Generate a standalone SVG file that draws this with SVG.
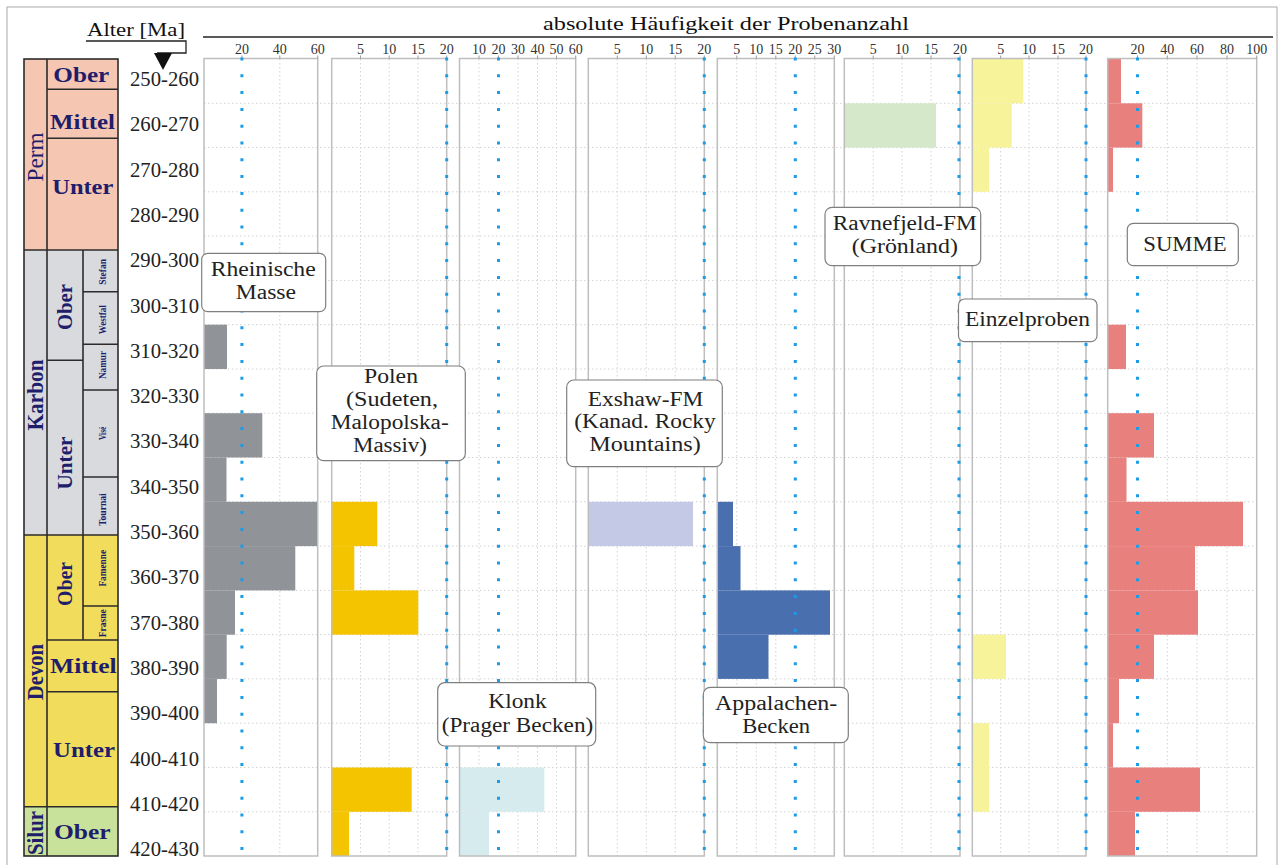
<svg xmlns="http://www.w3.org/2000/svg" width="1280" height="865" viewBox="0 0 1280 865">
<style>
text{font-family:"Liberation Serif","Times New Roman",serif;}
.age{font-size:20px;fill:#222;}
.tick{font-size:14px;fill:#333;text-anchor:middle;}
.lbl{font-size:20px;fill:#222;}
.st{font-weight:bold;fill:#201D6B;}
.per{font-weight:normal;fill:#201D6B;font-size:24px;}
.perb{font-weight:bold;fill:#201D6B;font-size:23px;}
.mid{font-size:20px;}
.sm{font-size:11px;}
.frame{fill:none;stroke:#BEBEBE;stroke-width:1.5;}
.vg{stroke:#D2D2D2;stroke-width:1;stroke-dasharray:1.5 2.5;}
.hg{stroke:#D2D2D2;stroke-width:1;stroke-dasharray:1.5 2.5;}
.blue{stroke:#1C9CE8;stroke-width:3;stroke-dasharray:3 13.8;}
.box{fill:#fff;stroke:#7F7F7F;stroke-width:1.2;}
.col{stroke:#2B2B2B;stroke-width:1.6;}
.tk{stroke:#9A9A9A;stroke-width:1;}
</style>
<rect x="7" y="7" width="1270" height="862" fill="#fff" stroke="#AAAAAA" stroke-width="1"/>

<!-- Header -->
<g id="header">
<text x="543" y="30" font-size="19" fill="#111" textLength="366" lengthAdjust="spacingAndGlyphs">absolute Häufigkeit der Probenanzahl</text>
<line x1="203" y1="37" x2="1273" y2="37" stroke="#222" stroke-width="1.5"/>
<text x="87" y="36" font-size="19" fill="#111" textLength="98" lengthAdjust="spacingAndGlyphs">Alter [Ma]</text>
<polyline points="86,41 186,41 186,53 157,53" fill="none" stroke="#222" stroke-width="1.3"/>
<polygon points="154,53 172,53 163,70" fill="#111"/>
</g>

<!-- Stratigraphic column -->
<g id="strat">
<rect x="24" y="59" width="94" height="191" fill="#F5C6B2"/>
<rect x="24" y="250" width="94" height="285" fill="#D9DADE"/>
<rect x="24" y="535" width="94" height="271.7" fill="#F2DC5C"/>
<rect x="24" y="806.7" width="94" height="49.3" fill="#C8E29B"/>
<rect x="24" y="59" width="94" height="797" fill="none" class="col"/>
<line class="col" x1="47" y1="59" x2="47" y2="856"/>
<line class="col" x1="24" y1="250" x2="118" y2="250"/>
<line class="col" x1="24" y1="535" x2="118" y2="535"/>
<line class="col" x1="24" y1="806.7" x2="118" y2="806.7"/>
<line class="col" x1="47" y1="89.3" x2="118" y2="89.3"/>
<line class="col" x1="47" y1="138.3" x2="118" y2="138.3"/>
<line class="col" x1="83" y1="250" x2="83" y2="535"/>
<line class="col" x1="47" y1="360.3" x2="83" y2="360.3"/>
<line class="col" x1="83" y1="291.7" x2="118" y2="291.7"/>
<line class="col" x1="83" y1="344.3" x2="118" y2="344.3"/>
<line class="col" x1="83" y1="390" x2="118" y2="390"/>
<line class="col" x1="83" y1="477" x2="118" y2="477"/>
<line class="col" x1="83" y1="535" x2="83" y2="640"/>
<line class="col" x1="83" y1="606" x2="118" y2="606"/>
<line class="col" x1="47" y1="640" x2="118" y2="640"/>
<line class="col" x1="47" y1="691.7" x2="118" y2="691.7"/>

<text class="per" transform="translate(43,157) rotate(-90)" x="-24.5" y="0" textLength="49" lengthAdjust="spacingAndGlyphs">Perm</text>
<text class="perb" transform="translate(43,395) rotate(-90)" x="-35.5" y="0" textLength="71" lengthAdjust="spacingAndGlyphs">Karbon</text>
<text class="perb" transform="translate(43,672) rotate(-90)" x="-28" y="0" textLength="56" lengthAdjust="spacingAndGlyphs">Devon</text>
<text class="perb" transform="translate(43,833) rotate(-90)" x="-22" y="0" textLength="44" lengthAdjust="spacingAndGlyphs">Silur</text>

<text class="st mid" x="53.3" y="82" textLength="56" lengthAdjust="spacingAndGlyphs">Ober</text>
<text class="st mid" x="50" y="128.5" textLength="65" lengthAdjust="spacingAndGlyphs">Mittel</text>
<text class="st mid" x="52.3" y="194.3" textLength="61" lengthAdjust="spacingAndGlyphs">Unter</text>
<text class="st mid" transform="translate(71.5,307) rotate(-90)" x="-23" y="0" textLength="46" lengthAdjust="spacingAndGlyphs">Ober</text>
<text class="st mid" transform="translate(71.5,463) rotate(-90)" x="-26.5" y="0" textLength="53" lengthAdjust="spacingAndGlyphs">Unter</text>
<text class="st mid" transform="translate(71.5,584) rotate(-90)" x="-22" y="0" textLength="44" lengthAdjust="spacingAndGlyphs">Ober</text>
<text class="st mid" x="50" y="672.7" textLength="66.7" lengthAdjust="spacingAndGlyphs">Mittel</text>
<text class="st mid" x="53" y="757.3" textLength="62" lengthAdjust="spacingAndGlyphs">Unter</text>
<text class="st mid" x="54" y="839.3" textLength="56.7" lengthAdjust="spacingAndGlyphs">Ober</text>

<text class="st sm" transform="translate(105.5,272) rotate(-90)" x="-12.8" y="0" textLength="25.7" lengthAdjust="spacingAndGlyphs">Stefan</text>
<text class="st sm" transform="translate(105.5,319.7) rotate(-90)" x="-14.5" y="0" textLength="29" lengthAdjust="spacingAndGlyphs">Westfal</text>
<text class="st sm" transform="translate(105.5,365) rotate(-90)" x="-14" y="0" textLength="28" lengthAdjust="spacingAndGlyphs">Namur</text>
<text class="st sm" transform="translate(105.5,433.3) rotate(-90)" x="-6.7" y="0" textLength="13.3" lengthAdjust="spacingAndGlyphs">Visé</text>
<text class="st sm" transform="translate(105.5,509.7) rotate(-90)" x="-16.3" y="0" textLength="32.7" lengthAdjust="spacingAndGlyphs">Tournai</text>
<text class="st sm" transform="translate(105.5,568.3) rotate(-90)" x="-18.3" y="0" textLength="36.7" lengthAdjust="spacingAndGlyphs">Famenne</text>
<text class="st sm" transform="translate(105.5,623.3) rotate(-90)" x="-14" y="0" textLength="28" lengthAdjust="spacingAndGlyphs">Frasne</text>
</g>

<!-- Age labels -->
<g id="ages">
<text class="age" x="130" y="86" textLength="69" lengthAdjust="spacingAndGlyphs">250-260</text>
<text class="age" x="130" y="131.3" textLength="69" lengthAdjust="spacingAndGlyphs">260-270</text>
<text class="age" x="130" y="176.6" textLength="69" lengthAdjust="spacingAndGlyphs">270-280</text>
<text class="age" x="130" y="221.9" textLength="69" lengthAdjust="spacingAndGlyphs">280-290</text>
<text class="age" x="130" y="267.2" textLength="69" lengthAdjust="spacingAndGlyphs">290-300</text>
<text class="age" x="130" y="312.5" textLength="69" lengthAdjust="spacingAndGlyphs">300-310</text>
<text class="age" x="130" y="357.8" textLength="69" lengthAdjust="spacingAndGlyphs">310-320</text>
<text class="age" x="130" y="403.1" textLength="69" lengthAdjust="spacingAndGlyphs">320-330</text>
<text class="age" x="130" y="448.4" textLength="69" lengthAdjust="spacingAndGlyphs">330-340</text>
<text class="age" x="130" y="493.7" textLength="69" lengthAdjust="spacingAndGlyphs">340-350</text>
<text class="age" x="130" y="539" textLength="69" lengthAdjust="spacingAndGlyphs">350-360</text>
<text class="age" x="130" y="584.3" textLength="69" lengthAdjust="spacingAndGlyphs">360-370</text>
<text class="age" x="130" y="629.6" textLength="69" lengthAdjust="spacingAndGlyphs">370-380</text>
<text class="age" x="130" y="674.9" textLength="69" lengthAdjust="spacingAndGlyphs">380-390</text>
<text class="age" x="130" y="720.2" textLength="69" lengthAdjust="spacingAndGlyphs">390-400</text>
<text class="age" x="130" y="765.5" textLength="69" lengthAdjust="spacingAndGlyphs">400-410</text>
<text class="age" x="130" y="810.8" textLength="69" lengthAdjust="spacingAndGlyphs">410-420</text>
<text class="age" x="130" y="856" textLength="69" lengthAdjust="spacingAndGlyphs">420-430</text>
</g>

<!-- Grid -->
<g id="grid">
<line class="hg" x1="204" y1="103.3" x2="1257" y2="103.3"/>
<line class="hg" x1="204" y1="147.6" x2="1257" y2="147.6"/>
<line class="hg" x1="204" y1="191.8" x2="1257" y2="191.8"/>
<line class="hg" x1="204" y1="236.1" x2="1257" y2="236.1"/>
<line class="hg" x1="204" y1="280.4" x2="1257" y2="280.4"/>
<line class="hg" x1="204" y1="324.7" x2="1257" y2="324.7"/>
<line class="hg" x1="204" y1="369" x2="1257" y2="369"/>
<line class="hg" x1="204" y1="413.2" x2="1257" y2="413.2"/>
<line class="hg" x1="204" y1="457.5" x2="1257" y2="457.5"/>
<line class="hg" x1="204" y1="501.8" x2="1257" y2="501.8"/>
<line class="hg" x1="204" y1="546.1" x2="1257" y2="546.1"/>
<line class="hg" x1="204" y1="590.4" x2="1257" y2="590.4"/>
<line class="hg" x1="204" y1="634.6" x2="1257" y2="634.6"/>
<line class="hg" x1="204" y1="678.9" x2="1257" y2="678.9"/>
<line class="hg" x1="204" y1="723.2" x2="1257" y2="723.2"/>
<line class="hg" x1="204" y1="767.5" x2="1257" y2="767.5"/>
<line class="hg" x1="204" y1="811.8" x2="1257" y2="811.8"/>
<line class="vg" x1="279.8" y1="59" x2="279.8" y2="856"/>
<line class="vg" x1="360.5" y1="59" x2="360.5" y2="856"/>
<line class="vg" x1="389.2" y1="59" x2="389.2" y2="856"/>
<line class="vg" x1="418" y1="59" x2="418" y2="856"/>
<line class="vg" x1="479" y1="59" x2="479" y2="856"/>
<line class="vg" x1="518" y1="59" x2="518" y2="856"/>
<line class="vg" x1="537.5" y1="59" x2="537.5" y2="856"/>
<line class="vg" x1="556.5" y1="59" x2="556.5" y2="856"/>
<line class="vg" x1="617.3" y1="59" x2="617.3" y2="856"/>
<line class="vg" x1="646.3" y1="59" x2="646.3" y2="856"/>
<line class="vg" x1="675.3" y1="59" x2="675.3" y2="856"/>
<line class="vg" x1="736.8" y1="59" x2="736.8" y2="856"/>
<line class="vg" x1="756.3" y1="59" x2="756.3" y2="856"/>
<line class="vg" x1="775.8" y1="59" x2="775.8" y2="856"/>
<line class="vg" x1="814.8" y1="59" x2="814.8" y2="856"/>
<line class="vg" x1="873.2" y1="59" x2="873.2" y2="856"/>
<line class="vg" x1="902" y1="59" x2="902" y2="856"/>
<line class="vg" x1="931" y1="59" x2="931" y2="856"/>
<line class="vg" x1="1000.7" y1="59" x2="1000.7" y2="856"/>
<line class="vg" x1="1029" y1="59" x2="1029" y2="856"/>
<line class="vg" x1="1058" y1="59" x2="1058" y2="856"/>
<line class="vg" x1="1167.3" y1="59" x2="1167.3" y2="856"/>
<line class="vg" x1="1197" y1="59" x2="1197" y2="856"/>
<line class="vg" x1="1227" y1="59" x2="1227" y2="856"/>
</g>

<!-- Bars -->
<g id="bars-rheinische" fill="#909398">
<rect x="204" y="324.7" width="23" height="44.3"/>
<rect x="204" y="413.2" width="58.3" height="44.3"/>
<rect x="204" y="457.5" width="22.5" height="44.3"/>
<rect x="204" y="501.8" width="113.7" height="44.3"/>
<rect x="204" y="546.1" width="91.3" height="44.3"/>
<rect x="204" y="590.4" width="31" height="44.3"/>
<rect x="204" y="634.6" width="22.7" height="44.3"/>
<rect x="204" y="678.9" width="13" height="44.3"/>
</g>
<g id="bars-polen" fill="#F5C400">
<rect x="331.7" y="501.8" width="45.6" height="44.3"/>
<rect x="331.7" y="546.1" width="22.6" height="44.3"/>
<rect x="331.7" y="590.4" width="86.6" height="44.3"/>
<rect x="331.7" y="767.5" width="80" height="44.3"/>
<rect x="331.7" y="811.8" width="17.3" height="44.2"/>
</g>
<g id="bars-klonk" fill="#D5EBEE">
<rect x="459.5" y="767.5" width="84.8" height="44.3"/>
<rect x="459.5" y="811.8" width="29.5" height="44.2"/>
</g>
<g id="bars-exshaw" fill="#C4C9E5">
<rect x="588.3" y="501.8" width="104.7" height="44.3"/>
</g>
<g id="bars-appalachen" fill="#4A6FAE">
<rect x="717.3" y="501.8" width="15.7" height="44.3"/>
<rect x="717.3" y="546.1" width="23.2" height="44.3"/>
<rect x="717.3" y="590.4" width="112.7" height="44.3"/>
<rect x="717.3" y="634.6" width="51.2" height="44.3"/>
</g>
<g id="bars-ravnefjeld" fill="#D5E8C9">
<rect x="844.3" y="103.3" width="91.7" height="44.3"/>
</g>
<g id="bars-einzel" fill="#F7F39A">
<rect x="972.3" y="59" width="51" height="44.3"/>
<rect x="972.3" y="103.3" width="39.4" height="44.3"/>
<rect x="972.3" y="147.6" width="16.7" height="44.2"/>
<rect x="972.3" y="634.6" width="33.7" height="44.3"/>
<rect x="972.3" y="723.2" width="16.7" height="88.6"/>
</g>
<g id="bars-summe" fill="#E8807E">
<rect x="1107.7" y="59" width="13.3" height="44.3"/>
<rect x="1107.7" y="103.3" width="34.6" height="44.3"/>
<rect x="1107.7" y="147.6" width="5.3" height="44.2"/>
<rect x="1107.7" y="324.7" width="18.3" height="44.3"/>
<rect x="1107.7" y="413.2" width="46.3" height="44.3"/>
<rect x="1107.7" y="457.5" width="18.8" height="44.3"/>
<rect x="1107.7" y="501.8" width="135.3" height="44.3"/>
<rect x="1107.7" y="546.1" width="87.3" height="44.3"/>
<rect x="1107.7" y="590.4" width="90.3" height="44.3"/>
<rect x="1107.7" y="634.6" width="46.3" height="44.3"/>
<rect x="1107.7" y="678.9" width="11.3" height="44.3"/>
<rect x="1107.7" y="723.2" width="5.3" height="44.3"/>
<rect x="1107.7" y="767.5" width="92.3" height="44.3"/>
<rect x="1107.7" y="811.8" width="27.3" height="44.2"/>
</g>

<!-- Panel frames and axes -->
<g id="panels">
<rect class="frame" x="204" y="58.5" width="113.7" height="797.5"/>
<rect class="frame" x="331.7" y="58.5" width="115" height="797.5"/>
<rect class="frame" x="459.5" y="58.5" width="116.2" height="797.5"/>
<rect class="frame" x="588.3" y="58.5" width="116" height="797.5"/>
<rect class="frame" x="717.3" y="58.5" width="117" height="797.5"/>
<rect class="frame" x="844.3" y="58.5" width="115.7" height="797.5"/>
<rect class="frame" x="972.3" y="58.5" width="113.7" height="797.5"/>
<rect class="frame" x="1107.7" y="58.5" width="149" height="797.5"/>
<path class="tk" d="M241.9,58.5v-3M279.8,58.5v-3M317.7,58.5v-3M360.5,58.5v-3M389.2,58.5v-3M418,58.5v-3M446.7,58.5v-3M479,58.5v-3M498.5,58.5v-3M518,58.5v-3M537.5,58.5v-3M556.5,58.5v-3M575.7,58.5v-3M617.3,58.5v-3M646.3,58.5v-3M675.3,58.5v-3M704.3,58.5v-3M736.8,58.5v-3M756.3,58.5v-3M775.8,58.5v-3M795.3,58.5v-3M814.8,58.5v-3M834.3,58.5v-3M873.2,58.5v-3M902,58.5v-3M931,58.5v-3M960,58.5v-3M1000.7,58.5v-3M1029,58.5v-3M1058,58.5v-3M1086,58.5v-3M1137.5,58.5v-3M1167.3,58.5v-3M1197,58.5v-3M1227,58.5v-3M1256.7,58.5v-3"/>
</g>

<g id="ticklabels">
<text class="tick" x="241.9" y="54">20</text>
<text class="tick" x="279.8" y="54">40</text>
<text class="tick" x="317.7" y="54">60</text>
<text class="tick" x="360.5" y="54">5</text>
<text class="tick" x="389.2" y="54">10</text>
<text class="tick" x="418" y="54">15</text>
<text class="tick" x="446.7" y="54">20</text>
<text class="tick" x="479" y="54">10</text>
<text class="tick" x="498.5" y="54">20</text>
<text class="tick" x="518" y="54">30</text>
<text class="tick" x="537.5" y="54">40</text>
<text class="tick" x="556.5" y="54">50</text>
<text class="tick" x="575.7" y="54">60</text>
<text class="tick" x="617.3" y="54">5</text>
<text class="tick" x="646.3" y="54">10</text>
<text class="tick" x="675.3" y="54">15</text>
<text class="tick" x="704.3" y="54">20</text>
<text class="tick" x="736.8" y="54">5</text>
<text class="tick" x="756.3" y="54">10</text>
<text class="tick" x="775.8" y="54">15</text>
<text class="tick" x="795.3" y="54">20</text>
<text class="tick" x="814.8" y="54">25</text>
<text class="tick" x="834.3" y="54">30</text>
<text class="tick" x="873.2" y="54">5</text>
<text class="tick" x="902" y="54">10</text>
<text class="tick" x="931" y="54">15</text>
<text class="tick" x="960" y="54">20</text>
<text class="tick" x="1000.7" y="54">5</text>
<text class="tick" x="1029" y="54">10</text>
<text class="tick" x="1058" y="54">15</text>
<text class="tick" x="1086" y="54">20</text>
<text class="tick" x="1137.5" y="54">20</text>
<text class="tick" x="1167.3" y="54">40</text>
<text class="tick" x="1197" y="54">60</text>
<text class="tick" x="1227" y="54">80</text>
<text class="tick" x="1256.7" y="54">100</text>
</g>

<!-- Reference lines (20) -->
<g id="connectors">
<line class="blue" x1="241.9" y1="57.5" x2="241.9" y2="857"/>
<line class="blue" x1="446.7" y1="57.5" x2="446.7" y2="857"/>
<line class="blue" x1="498.5" y1="57.5" x2="498.5" y2="857"/>
<line class="blue" x1="704.3" y1="57.5" x2="704.3" y2="857"/>
<line class="blue" x1="795.3" y1="57.5" x2="795.3" y2="857"/>
<line class="blue" x1="959" y1="57.5" x2="959" y2="857"/>
<line class="blue" x1="1086" y1="57.5" x2="1086" y2="857"/>
<line class="blue" x1="1137.5" y1="57.5" x2="1137.5" y2="857"/>
</g>

<!-- Label boxes -->
<g id="label-rheinische">
<rect class="box" x="201.7" y="253.3" width="124" height="58.4" rx="6"/>
<text class="lbl" x="210.7" y="276" textLength="105" lengthAdjust="spacingAndGlyphs">Rheinische</text>
<text class="lbl" x="235.7" y="299" textLength="60.3" lengthAdjust="spacingAndGlyphs">Masse</text>
</g>
<g id="label-polen">
<rect class="box" x="316.7" y="366" width="148.6" height="94.7" rx="7"/>
<text class="lbl" x="364" y="383.3" textLength="54" lengthAdjust="spacingAndGlyphs">Polen</text>
<text class="lbl" x="346" y="406.3" textLength="92" lengthAdjust="spacingAndGlyphs">(Sudeten,</text>
<text class="lbl" x="330.7" y="429.3" textLength="118" lengthAdjust="spacingAndGlyphs">Malopolska-</text>
<text class="lbl" x="353" y="452.3" textLength="74" lengthAdjust="spacingAndGlyphs">Massiv)</text>
</g>
<g id="label-klonk">
<rect class="box" x="437.7" y="682.7" width="158" height="63.3" rx="7"/>
<text class="lbl" x="488.3" y="708.3" textLength="58.4" lengthAdjust="spacingAndGlyphs">Klonk</text>
<text class="lbl" x="441.7" y="731.7" textLength="151.6" lengthAdjust="spacingAndGlyphs">(Prager Becken)</text>
</g>
<g id="label-exshaw">
<rect class="box" x="566.7" y="380" width="155.6" height="86.7" rx="7"/>
<text class="lbl" x="587.7" y="406" textLength="115.6" lengthAdjust="spacingAndGlyphs">Exshaw-FM</text>
<text class="lbl" x="574.3" y="428.3" textLength="141.4" lengthAdjust="spacingAndGlyphs">(Kanad. Rocky</text>
<text class="lbl" x="589.3" y="450.7" textLength="111.4" lengthAdjust="spacingAndGlyphs">Mountains)</text>
</g>
<g id="label-appalachen">
<rect class="box" x="703.3" y="687.3" width="145" height="55.4" rx="7"/>
<text class="lbl" x="715" y="710" textLength="122.3" lengthAdjust="spacingAndGlyphs">Appalachen-</text>
<text class="lbl" x="742.3" y="733.3" textLength="67.7" lengthAdjust="spacingAndGlyphs">Becken</text>
</g>
<g id="label-ravnefjeld">
<rect class="box" x="825" y="207.3" width="155.7" height="58.4" rx="7"/>
<text class="lbl" x="832.7" y="230" textLength="144" lengthAdjust="spacingAndGlyphs">Ravnefjeld-FM</text>
<text class="lbl" x="851.7" y="252.7" textLength="106.3" lengthAdjust="spacingAndGlyphs">(Grönland)</text>
</g>
<g id="label-einzel">
<rect class="box" x="958.5" y="299" width="138.5" height="42.7" rx="6"/>
<text class="lbl" x="965" y="326" textLength="125" lengthAdjust="spacingAndGlyphs">Einzelproben</text>
</g>
<g id="label-summe">
<rect class="box" x="1127.3" y="223.3" width="111" height="42.4" rx="6"/>
<text class="lbl" x="1143.3" y="250.7" textLength="83.4" lengthAdjust="spacingAndGlyphs">SUMME</text>
</g>
</svg>
